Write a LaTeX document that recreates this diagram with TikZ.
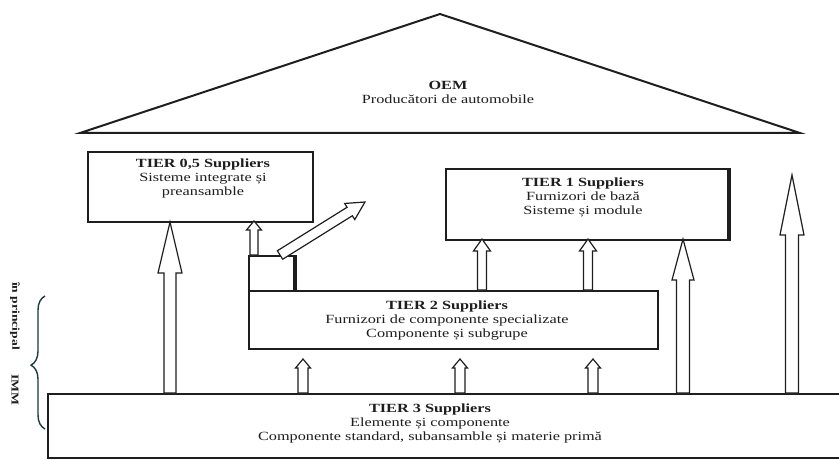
\documentclass[tikz,border=0pt]{standalone}
\usepackage{fontspec}
\setmainfont[FakeStretch=1.3]{Liberation Serif}
\usetikzlibrary{calc,decorations.pathreplacing}
\definecolor{ink}{HTML}{1E1E1E}
\definecolor{bracecol}{HTML}{183C38}
\tikzset{
  box/.style={draw=ink, line width=1.6pt, fill=white, inner sep=0pt},
  lbl/.style={align=center, inner sep=0pt, text=ink, font=\fontsize{12.5}{14}\selectfont},
  barrow/.style={draw=ink, line width=1.2pt, fill=white, line join=miter},
  roof/.style={draw=ink, line width=2pt, line join=miter},
  sidelbl/.style={inner sep=0pt, text=ink, font=\fontsize{10.5}{12}\selectfont\bfseries, rotate=-90}
}
\newcommand{\blockarr}[5]{%
  \coordinate (hb) at ($(#2)!#5!(#1)$);
  \draw[barrow] ($(#1)!#3!-90:(#2)$) -- ($(hb)!#3!-90:(#2)$) -- ($(hb)!#4!-90:(#2)$) -- (#2)
    -- ($(hb)!#4!90:(#2)$) -- ($(hb)!#3!90:(#2)$) -- ($(#1)!#3!90:(#2)$) -- cycle;}
\begin{document}
\begin{tikzpicture}[x=1pt,y=-1pt]
\useasboundingbox (0,0) rectangle (839,460);
\clip (0,0) rectangle (839,460);
\fill[white] (0,0) rectangle (839,460);

% roof (OEM)
\coordinate (roofL) at (80,133);
\coordinate (roofT) at (440,14);
\coordinate (roofR) at (800,133);
\draw[roof] (roofL) -- (roofT) -- (roofR) -- cycle;
\node[lbl] (oem) at (448,92) {\textbf{OEM}\\Producători de automobile};

% TIER 3 box (extends beyond picture)
\node[box, anchor=north west, minimum width=810pt, minimum height=64pt] (t3) at (47,393) {};
\node[lbl] (t3txt) at (430,423) {\textbf{TIER 3 Suppliers}\\Elemente și componente\\Componente standard, subansamble și materie primă};

% TIER 2 box
\node[box, anchor=north west, minimum width=409pt, minimum height=58pt] (t2) at (248,290) {};
\node[lbl] (t2txt) at (447,321) {\textbf{TIER 2 Suppliers}\\Furnizori de componente specializate\\Componente și subgrupe};

% small box on TIER 2
\node[box, anchor=north west, minimum width=45pt, minimum height=35pt] (sb) at (248,255) {};
\draw[ink, line width=3pt] ([xshift=0.5pt]sb.north east) -- ([xshift=0.5pt]sb.south east);

% TIER 0,5 box
\node[box, anchor=north west, minimum width=225pt, minimum height=70pt] (t05) at (87,151) {};
\node[lbl] (t05txt) at (203,178) {\textbf{TIER 0,5 Suppliers}\\Sisteme integrate și\\preansamble};

% TIER 1 box
\node[box, anchor=north west, minimum width=282pt, minimum height=71pt] (t1) at (445,168) {};
\draw[ink, line width=3.5pt] ([xshift=1pt]t1.north east) -- ([xshift=1pt]t1.south east);
\node[lbl] (t1txt) at (583,197) {\textbf{TIER 1 Suppliers}\\Furnizori de bază\\Sisteme și module};

% arrow end points
\coordinate (aAs) at (170,393); \coordinate (aAt) at (170,222);
\coordinate (aBs) at (683,393); \coordinate (aBt) at (683,239);
\coordinate (aCs) at (792,393); \coordinate (aCt) at (792,175);
\coordinate (aDs) at (482,290); \coordinate (aDt) at (482,239);
\coordinate (aEs) at (588,290); \coordinate (aEt) at (588,239);
\coordinate (aFs) at (303,393); \coordinate (aFt) at (303,359);
\coordinate (aGs) at (460,393); \coordinate (aGt) at (460,359);
\coordinate (aHs) at (593,393); \coordinate (aHt) at (593,359);
\coordinate (aIs) at (254,255); \coordinate (aIt) at (254,221);
\coordinate (aJs) at (280,255); \coordinate (aJt) at (365,202);

\blockarr{aAs}{aAt}{6pt}{12pt}{51pt}
\blockarr{aBs}{aBt}{6.5pt}{11pt}{41pt}
\blockarr{aCs}{aCt}{6.5pt}{12pt}{60pt}
\blockarr{aDs}{aDt}{4.5pt}{8.5pt}{12pt}
\blockarr{aEs}{aEt}{4.5pt}{8.5pt}{12pt}
\blockarr{aFs}{aFt}{5pt}{7.5pt}{9pt}
\blockarr{aGs}{aGt}{5pt}{7.5pt}{9pt}
\blockarr{aHs}{aHt}{5pt}{7.5pt}{9pt}
\blockarr{aIs}{aIt}{4pt}{7.5pt}{9pt}
\blockarr{aJs}{aJt}{5pt}{9.5pt}{18pt}

% left brace and labels
\coordinate (brB) at (45,429);
\coordinate (brT) at (45,296);
\draw[bracecol, line width=1.4pt, decorate, decoration={brace, amplitude=14pt, aspect=0.48}] (brB) -- (brT);
\node[sidelbl] (lp) at (15,316) {în principal};
\node[sidelbl] (imm) at (15,390) {IMM};
\end{tikzpicture}
\end{document}
